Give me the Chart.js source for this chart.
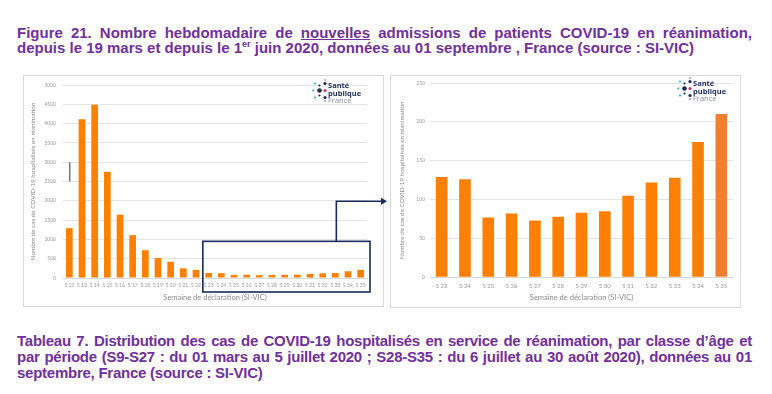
<!DOCTYPE html>
<html>
<head>
<meta charset="utf-8">
<script src="https://cdn.jsdelivr.net/npm/chart.js@4.4.0/dist/chart.umd.min.js"></script>
<style>
  body { margin: 0; background: #fff; width: 772px; height: 394px; position: relative; overflow: hidden; font-family: "Liberation Sans", Arial, sans-serif; }
  .caption { position: absolute; left: 17px; color: #7030a0; font-weight: bold; font-size: 15px; line-height: 16px; white-space: nowrap; }
  .just { width: 735px; text-align: justify; text-align-last: justify; }
  .tight { letter-spacing: -0.25px; }
  .panel { position: absolute; background: #fff; border: 1px solid #d9d9d9; box-sizing: border-box; }
  canvas { position: absolute; }
  .logo { position: absolute; width: 52px; height: 26px; z-index: 5; }
  .logo svg { position: absolute; left: 0; top: 0; }
  .logo .txt { position: absolute; left: 16px; top: 3px; font-family: "Open Sans", sans-serif; font-size: 7.5px; line-height: 7.5px; color: #1d2b5e; font-weight: bold; }
  .logo .txt span { display: block; }
  .logo .txt .fr { color: #8a8fa8; font-weight: normal; }
</style>
</head>
<body>

<div class="caption just" style="top: 25px;">Figure 21. Nombre hebdomadaire de <u>nouvelles</u> admissions de patients COVID-19 en réanimation,</div>
<div class="caption" style="top: 40px;">depuis le 19 mars et depuis le 1<sup style="font-size:9px; line-height:0;">er</sup> juin 2020, données au 01 septembre , France (source : SI-VIC)</div>

<div class="panel" style="left: 23px; top: 75px; width: 361px; height: 232px;"></div>
<div class="panel" style="left: 390px; top: 75px; width: 351px; height: 233px;"></div>

<canvas id="chartAll" width="372" height="229" style="left: 24px; top: 75px; z-index: 2;"></canvas>
<canvas id="chartZoom" width="347" height="233" style="left: 393px; top: 75px; z-index: 1;"></canvas>

<div class="logo" style="left: 312px; top: 79px;"></div>
<div class="logo" style="left: 677px; top: 77px;"></div>

<div class="caption just tight" style="top: 333px;">Tableau 7. Distribution des cas de COVID-19 hospitalisés en service de réanimation, par classe d’âge et</div>
<div class="caption just tight" style="top: 349px;">par période (S9-S27 : du 01 mars au 5 juillet 2020 ; S28-S35 : du 6 juillet au 30 août 2020), données au 01</div>
<div class="caption tight" style="top: 365px;">septembre, France (source : SI-VIC)</div>

<script>
// Weekly new ICU admissions, whole period (S12 - S35)
const weeksAll = ['S 12', 'S 13', 'S 14', 'S 15', 'S 16', 'S 17', 'S 18', 'S 19', 'S 20', 'S 21', 'S 22', 'S 23',
    'S 24', 'S 25', 'S 26', 'S 27', 'S 28', 'S 29', 'S 30', 'S 31', 'S 32', 'S 33', 'S 34', 'S 35'];
const admissionsAll = [1290, 4110, 4490, 2750, 1640, 1110, 720, 520, 420, 250, 210, 129,
    125, 77, 82, 73, 78, 83, 85, 105, 122, 128, 174, 210];
const ticksAll = [0, 500, 1000, 1500, 2000, 2500, 3000, 3500, 4000, 4500, 5000];

// Zoom since 1st June (S23 - S35)
const weeksZoom = ['S 23', 'S 24', 'S 25', 'S 26', 'S 27', 'S 28', 'S 29', 'S 30', 'S 31', 'S 32', 'S 33', 'S 34', 'S 35'];
const admissionsZoom = [129, 126, 77, 82, 73, 78, 83, 85, 105, 122, 128, 174, 210];
const ticksZoom = [0, 50, 100, 150, 200, 250];

const yTitle = 'Nombre de cas de COVID-19 hospitalisés en réanimation';
const xTitle = 'Semaine de déclaration (SI-VIC)';
const orange = '#ff8000';
const labelGray = '#9a9a9a';
const navy = '#1b2a5c';
const chartFont = 'Lato, "Open Sans", sans-serif';

// Santé publique France logo dots
const logoDots = [
    [13, 1, 0.8, '#e0306a'], [13, 4.5, 1.6, navy], [7.5, 6.5, 1.1, navy], [3, 4.5, 1.1, '#2bb5d8'],
    [13, 11.5, 1.6, '#e0306a'], [7.5, 11.5, 2.3, navy], [1.2, 11.5, 1.1, '#2bb5d8'],
    [7.5, 16.5, 1.1, navy], [3, 18.5, 1.1, '#2bb5d8'], [13, 18.5, 1.6, navy], [13, 22, 0.8, '#e0306a']
];
document.querySelectorAll('.logo').forEach(el => {
    let svg = '<svg width="16" height="24" viewBox="0 0 16 24">';
    logoDots.forEach(d => {
        svg += `<circle cx="${d[0]}" cy="${d[1]}" r="${d[2]}" fill="${d[3]}"/>`;
    });
    svg += '</svg>';
    el.innerHTML = svg + '<div class="txt"><span>Santé</span><span>publique</span><span class="fr">France</span></div>';
});

function makeOptions(cfg) {
    return {
        responsive: false,
        animation: false,
        devicePixelRatio: 1,
        layout: { padding: { top: 7, right: cfg.padRight, left: 0, bottom: 0 } },
        plugins: { legend: { display: false }, tooltip: { enabled: false } },
        scales: {
            x: {
                grid: { display: false, drawTicks: false },
                border: { display: true, color: '#d9d9d9' },
                ticks: {
                    autoSkip: false, maxRotation: 0, minRotation: 0,
                    font: { family: chartFont, size: cfg.xTickSize },
                    color: labelGray, padding: cfg.xTickPad
                },
                title: {
                    display: true, text: xTitle, color: '#8c8c8c',
                    font: { family: chartFont, size: 7.5 },
                    padding: { top: 0, bottom: cfg.xTitlePad }
                },
                afterFit: scale => { scale.height = cfg.xHeight; }
            },
            y: {
                min: 0,
                max: cfg.ticks[cfg.ticks.length - 1],
                afterBuildTicks: scale => { scale.ticks = cfg.ticks.map(v => ({ value: v })); },
                grid: { color: '#e4e4e4', drawTicks: false },
                border: { display: false },
                ticks: {
                    font: { family: chartFont, size: 5 },
                    color: labelGray, padding: cfg.yTickPad,
                    callback: value => String(value)
                },
                title: {
                    display: true, text: yTitle, color: '#8c8c8c',
                    font: { family: chartFont, size: 6.3 },
                    padding: { top: cfg.yTitlePad, bottom: 0 }
                },
                afterFit: scale => { scale.width = cfg.yWidth; }
            }
        }
    };
}

// Highlight box + arrow pointing to the zoomed chart, and the stray mark at S 12
const annotations = {
    id: 'annotations',
    afterDraw(chart) {
        const { ctx, chartArea } = chart;
        const x = chart.scales.x, y = chart.scales.y;
        const step = x.getPixelForValue(1) - x.getPixelForValue(0);
        const left = x.getPixelForValue(11) - step / 2 + 0.5;
        const right = chartArea.right + 3;
        const top = y.getPixelForValue(950);
        const bottom = chartArea.bottom + 14;
        ctx.save();
        ctx.strokeStyle = navy;
        ctx.lineWidth = 1.6;
        ctx.strokeRect(left, top, right - left, bottom - top);
        const ax = x.getPixelForValue(21) + 1;
        const ay = y.getPixelForValue(1990);
        const tip = chartArea.right + 20;
        ctx.beginPath();
        ctx.moveTo(ax, top);
        ctx.lineTo(ax, ay);
        ctx.lineTo(tip - 5, ay);
        ctx.stroke();
        ctx.fillStyle = navy;
        ctx.beginPath();
        ctx.moveTo(tip, ay);
        ctx.lineTo(tip - 6, ay - 3.5);
        ctx.lineTo(tip - 6, ay + 3.5);
        ctx.closePath();
        ctx.fill();
        // small dark stroke above the first bar
        ctx.strokeStyle = '#333';
        ctx.lineWidth = 1;
        ctx.beginPath();
        ctx.moveTo(x.getPixelForValue(0) + 0.5, y.getPixelForValue(3000));
        ctx.lineTo(x.getPixelForValue(0) + 0.5, y.getPixelForValue(2500));
        ctx.stroke();
        ctx.restore();
    }
};

new Chart(document.getElementById('chartAll'), {
    type: 'bar',
    data: {
        labels: weeksAll,
        datasets: [{
            data: admissionsAll,
            backgroundColor: orange,
            borderWidth: 0,
            categoryPercentage: 1,
            barPercentage: 0.53
        }]
    },
    options: makeOptions({
        padRight: 29, xHeight: 26, yWidth: 39, ticks: ticksAll,
        xTickSize: 5, xTickPad: 4, xTitlePad: 1.5, yTickPad: 7, yTitlePad: 5
    }),
    plugins: [annotations]
});

new Chart(document.getElementById('chartZoom'), {
    type: 'bar',
    data: {
        labels: weeksZoom,
        datasets: [{
            data: admissionsZoom,
            backgroundColor: admissionsZoom.map((v, i) => i === admissionsZoom.length - 1 ? '#f08030' : orange),
            borderWidth: 0,
            categoryPercentage: 1,
            barPercentage: 0.5
        }]
    },
    options: makeOptions({
        padRight: 7, xHeight: 30.7, yWidth: 37, ticks: ticksZoom,
        xTickSize: 6, xTickPad: 5, xTitlePad: 5.5, yTickPad: 5, yTitlePad: 4.8
    })
});
</script>
</body>
</html>
